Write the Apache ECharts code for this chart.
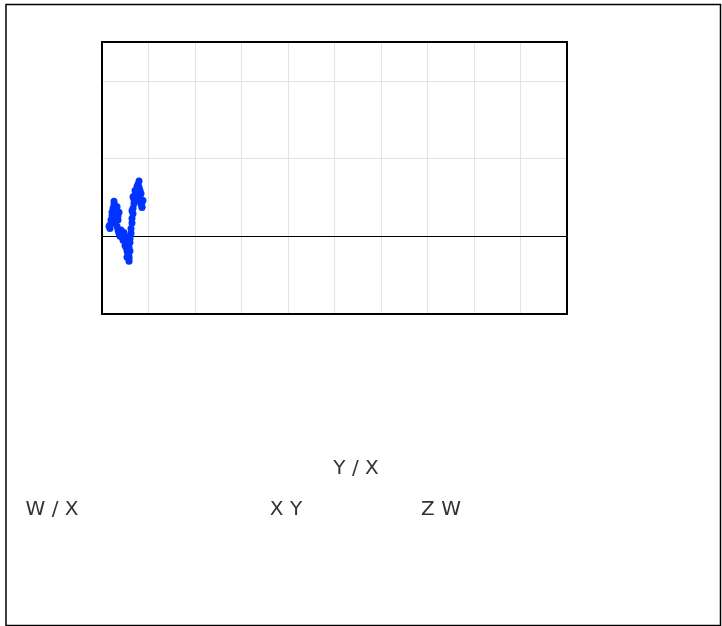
<!DOCTYPE html>
<html>
<head>
<meta charset="utf-8">
<script src="https://cdn.jsdelivr.net/npm/echarts@6/dist/echarts.min.js"></script>
<style>
html,body{margin:0;padding:0;background:#fff;}
#chart{width:722px;height:626px;}
</style>
</head>
<body>
<div id="chart"></div>
<script>
// Data
var xValues = [1.72,1.72,1.94,2.15,2.15,2.37,2.58,2.58,2.80,3.01,3.23,3.44,3.01,2.58,2.37,2.15,2.80,3.23,3.44,3.66,3.87,4.09,4.30,4.52,4.73,4.95,5.16,5.38,5.59,5.81,5.81,5.59,5.38,5.16,5.59,6.02,6.02,6.24,6.24,6.45,6.45,6.67,6.67,6.88,6.88,7.10,7.31,7.53,7.53,7.74,7.96,8.17,7.96,8.17,8.39,8.60,8.60,8.39,7.74,7.31,7.10,
  3.23,3.66,3.44,1.51,3.66,4.09,4.30,4.73,4.95,4.52,4.95,5.38,5.81,6.02,5.38,5.81,6.67,7.10,7.96,8.39,8.82,8.60,6.45];
var yValues = [0.10,0.15,0.21,0.26,0.31,0.36,0.41,0.45,0.40,0.35,0.29,0.26,0.23,0.27,0.22,0.17,0.18,0.13,0.08,0.04,0.00,0.03,-0.01,0.01,-0.03,-0.06,-0.10,-0.15,-0.21,-0.26,-0.29,-0.24,-0.19,-0.14,-0.10,-0.08,-0.03,0.04,0.10,0.17,0.23,0.29,0.36,0.42,0.47,0.53,0.56,0.60,0.64,0.67,0.63,0.59,0.55,0.51,0.47,0.44,0.38,0.42,0.51,0.49,0.45,
  0.38,0.31,0.21,0.13,0.05,0.08,0.04,0.05,0.00,-0.05,-0.12,-0.08,-0.14,-0.19,-0.27,-0.32,0.51,0.59,0.71,0.55,0.46,0.37,0.33];
var labelTexts = ["Y / X", "W / X", "X Y", "Z W"];

var points = xValues.map(function (x, i) { return [x, yValues[i]]; });

var chart = echarts.init(document.getElementById('chart'), null, {renderer: 'canvas'});
var textStyle = function (t) {
  return {text: t, fill: '#333', font: '20px "DejaVu Sans", sans-serif', textAlign: 'center', textVerticalAlign: 'middle'};
};
chart.setOption({
  animation: false,
  backgroundColor: '#fff',
  grid: {left: 102, top: 42, width: 465, height: 272, show: true, borderColor: '#000', borderWidth: 2, backgroundColor: 'transparent', z: 5},
  xAxis: {
    type: 'value', min: 0, max: 100, interval: 10,
    axisLabel: {show: false}, axisTick: {show: false},
    axisLine: {show: true, onZero: true, lineStyle: {color: '#000', width: 1}},
    splitLine: {show: true, lineStyle: {color: '#e3e3e3', width: 1}}
  },
  yAxis: {
    type: 'value', min: -1, max: 2.5, interval: 1,
    axisLabel: {show: false}, axisTick: {show: false},
    axisLine: {show: false},
    splitLine: {show: true, lineStyle: {color: '#e3e3e3', width: 1}}
  },
  series: [{
    type: 'scatter',
    data: points,
    symbol: 'circle',
    symbolSize: 7,
    itemStyle: {color: '#0033ff', opacity: 1},
    z: 3
  }],
  graphic: [
    {type: 'rect', shape: {x: 6, y: 4.5, width: 714.5, height: 621}, style: {fill: 'none', stroke: '#000', lineWidth: 1.5}, silent: true, z: 10},
    {type: 'text', x: 356, y: 469, style: textStyle(labelTexts[0])},
    {type: 'text', x: 52, y: 510, style: textStyle(labelTexts[1])},
    {type: 'text', x: 286, y: 510, style: textStyle(labelTexts[2])},
    {type: 'text', x: 441, y: 510, style: textStyle(labelTexts[3])}
  ]
});
</script>
</body>
</html>
